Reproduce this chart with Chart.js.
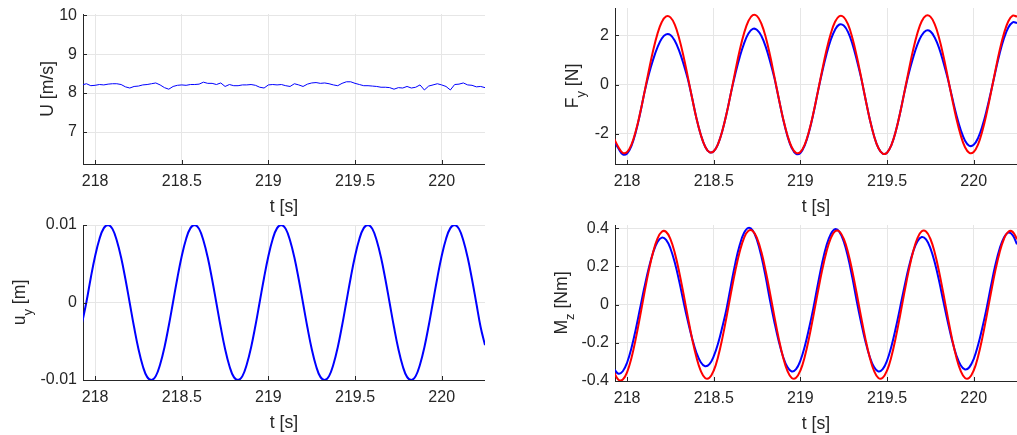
<!DOCTYPE html>
<html lang="en">
<head>
<meta charset="UTF-8">
<title>Cylinder response</title>
<script src="https://cdn.jsdelivr.net/npm/chart.js"></script>
<style>
  body { margin: 0; background: #fff; width: 1017px; height: 435px; overflow: hidden; position: relative; }
  .panel { position: absolute; }
</style>
</head>
<body>
<div class="panel" style="left:0;top:-6px;width:485px;height:226px"><canvas id="chartU"></canvas></div>
<div class="panel" style="left:500px;top:-12px;width:517px;height:232px"><canvas id="chartFy"></canvas></div>
<div class="panel" style="left:0;top:205px;width:485px;height:231px"><canvas id="chartUy"></canvas></div>
<div class="panel" style="left:500px;top:205px;width:517px;height:232px"><canvas id="chartMz"></canvas></div>
<script>
// time samples [s]
const t = [
  217.925, 217.95, 217.975,
  218, 218.025, 218.05, 218.075, 218.1, 218.125, 218.15, 218.175,
  218.2, 218.225, 218.25, 218.275, 218.3, 218.325, 218.35, 218.375,
  218.4, 218.425, 218.45, 218.475, 218.5, 218.525, 218.55, 218.575,
  218.6, 218.625, 218.65, 218.675, 218.7, 218.725, 218.75, 218.775,
  218.8, 218.825, 218.85, 218.875, 218.9, 218.925, 218.95, 218.975,
  219, 219.025, 219.05, 219.075, 219.1, 219.125, 219.15, 219.175,
  219.2, 219.225, 219.25, 219.275, 219.3, 219.325, 219.35, 219.375,
  219.4, 219.425, 219.45, 219.475, 219.5, 219.525, 219.55, 219.575,
  219.6, 219.625, 219.65, 219.675, 219.7, 219.725, 219.75, 219.775,
  219.8, 219.825, 219.85, 219.875, 219.9, 219.925, 219.95, 219.975,
  220, 220.025, 220.05, 220.075, 220.1, 220.125, 220.15, 220.175,
  220.2, 220.225, 220.25
];

// wind speed U [m/s]
const windU = [
  8.21, 8.24, 8.19,
  8.20, 8.22, 8.21, 8.23, 8.24, 8.24, 8.22, 8.16,
  8.13, 8.17, 8.18, 8.21, 8.22, 8.24, 8.26, 8.21,
  8.14, 8.10, 8.17, 8.20, 8.21, 8.20, 8.22, 8.22,
  8.23, 8.28, 8.25, 8.25, 8.22, 8.26, 8.17, 8.22,
  8.19, 8.19, 8.21, 8.21, 8.22, 8.20, 8.15, 8.13,
  8.21, 8.22, 8.21, 8.22, 8.19, 8.17, 8.24, 8.21,
  8.17, 8.23, 8.26, 8.27, 8.25, 8.26, 8.24, 8.21,
  8.19, 8.25, 8.29, 8.29, 8.25, 8.22, 8.19, 8.19,
  8.18, 8.17, 8.15, 8.15, 8.14, 8.10, 8.14, 8.13,
  8.17, 8.13, 8.15, 8.21, 8.08, 8.18, 8.21, 8.24,
  8.21, 8.17, 8.08, 8.22, 8.23, 8.26, 8.21, 8.20,
  8.16, 8.17, 8.14
];

// force F_y [N]
const fyRed = [
  -2.20, -2.55, -2.78,
  -2.74, -2.44, -1.89, -1.16, -0.32, 0.56, 1.38, 2.06,
  2.54, 2.77, 2.73, 2.43, 1.88, 1.16, 0.32, -0.55,
  -1.37, -2.04, -2.52, -2.75, -2.71, -2.41, -1.87, -1.15,
  -0.31, 0.57, 1.40, 2.09, 2.58, 2.82, 2.78, 2.47,
  1.92, 1.18, 0.32, -0.56, -1.38, -2.06, -2.55, -2.78,
  -2.74, -2.44, -1.89, -1.16, -0.32, 0.56, 1.38, 2.06,
  2.55, 2.78, 2.74, 2.44, 1.89, 1.16, 0.32, -0.57,
  -1.40, -2.09, -2.58, -2.81, -2.77, -2.46, -1.91, -1.17,
  -0.32, 0.56, 1.39, 2.08, 2.57, 2.80, 2.76, 2.45,
  1.90, 1.17, 0.32, -0.56, -1.38, -2.06, -2.55, -2.78,
  -2.74, -2.44, -1.89, -1.16, -0.32, 0.56, 1.39, 2.08,
  2.57, 2.80, 2.76
];
const fyBlue = [
  -2.28, -2.60, -2.84,
  -2.80, -2.49, -1.93, -1.18, -0.32, 0.41, 1.01, 1.51,
  1.87, 2.04, 2.01, 1.78, 1.38, 0.85, 0.23, -0.55,
  -1.37, -2.04, -2.52, -2.75, -2.71, -2.41, -1.87, -1.15,
  -0.31, 0.45, 1.12, 1.67, 2.07, 2.26, 2.22, 1.97,
  1.53, 0.94, 0.26, -0.57, -1.40, -2.09, -2.58, -2.82,
  -2.78, -2.47, -1.92, -1.18, -0.32, 0.49, 1.21, 1.81,
  2.23, 2.44, 2.40, 2.13, 1.65, 1.01, 0.28, -0.57,
  -1.40, -2.09, -2.58, -2.81, -2.77, -2.46, -1.91, -1.17,
  -0.32, 0.44, 1.08, 1.62, 2.00, 2.19, 2.16, 1.91,
  1.49, 0.91, 0.25, -0.50, -1.23, -1.84, -2.28, -2.49,
  -2.45, -2.18, -1.69, -1.04, -0.28, 0.51, 1.26, 1.88,
  2.32, 2.53, 2.50
];

// displacement u_y [m]
const uy = [
  -0.0026, 0.0001, 0.0032,
  0.0060, 0.0082, 0.0096, 0.0100, 0.0095, 0.0080, 0.0058, 0.0030,
  -0.0001, -0.0032, -0.0060, -0.0082, -0.0096, -0.0100, -0.0095, -0.0080,
  -0.0058, -0.0030, 0.0001, 0.0032, 0.0060, 0.0082, 0.0096, 0.0100,
  0.0095, 0.0080, 0.0058, 0.0030, -0.0001, -0.0032, -0.0060, -0.0082,
  -0.0096, -0.0100, -0.0095, -0.0080, -0.0058, -0.0030, 0.0001, 0.0032,
  0.0060, 0.0082, 0.0096, 0.0100, 0.0095, 0.0080, 0.0058, 0.0030,
  -0.0001, -0.0032, -0.0060, -0.0082, -0.0096, -0.0100, -0.0095, -0.0080,
  -0.0058, -0.0030, 0.0001, 0.0032, 0.0060, 0.0082, 0.0096, 0.0100,
  0.0095, 0.0080, 0.0058, 0.0030, -0.0001, -0.0032, -0.0060, -0.0082,
  -0.0096, -0.0100, -0.0095, -0.0080, -0.0058, -0.0030, 0.0001, 0.0032,
  0.0060, 0.0082, 0.0096, 0.0100, 0.0095, 0.0080, 0.0058, 0.0030,
  -0.0001, -0.0032, -0.0055
];

// moment M_z [Nm]
const mzRed = [
  -0.355, -0.393, -0.392,
  -0.353, -0.279, -0.178, -0.060, 0.063, 0.178, 0.275, 0.345,
  0.382, 0.381, 0.343, 0.271, 0.173, 0.058, -0.063, -0.178,
  -0.276, -0.347, -0.384, -0.383, -0.345, -0.273, -0.174, -0.058,
  0.064, 0.180, 0.278, 0.350, 0.387, 0.386, 0.347, 0.275,
  0.175, 0.059, -0.063, -0.178, -0.276, -0.347, -0.384, -0.383,
  -0.345, -0.273, -0.174, -0.058, 0.063, 0.178, 0.276, 0.347,
  0.384, 0.383, 0.345, 0.273, 0.174, 0.058, -0.063, -0.178,
  -0.276, -0.347, -0.384, -0.383, -0.345, -0.273, -0.174, -0.058,
  0.063, 0.178, 0.276, 0.347, 0.384, 0.383, 0.345, 0.273,
  0.174, 0.058, -0.063, -0.178, -0.276, -0.347, -0.384, -0.383,
  -0.345, -0.273, -0.174, -0.058, 0.063, 0.178, 0.275, 0.345,
  0.382, 0.381, 0.343
];
const mzBlue = [
  -0.338, -0.362, -0.349,
  -0.303, -0.227, -0.129, -0.018, 0.092, 0.192, 0.273, 0.328,
  0.351, 0.339, 0.294, 0.220, 0.125, 0.017, -0.085, -0.177,
  -0.252, -0.302, -0.323, -0.312, -0.270, -0.203, -0.115, -0.016,
  0.105, 0.220, 0.313, 0.376, 0.402, 0.388, 0.336, 0.252,
  0.143, 0.020, -0.092, -0.192, -0.273, -0.327, -0.350, -0.338,
  -0.293, -0.219, -0.124, -0.017, 0.103, 0.216, 0.308, 0.369,
  0.395, 0.381, 0.331, 0.248, 0.140, 0.019, -0.092, -0.192,
  -0.273, -0.327, -0.350, -0.338, -0.293, -0.219, -0.124, -0.017,
  0.093, 0.194, 0.276, 0.331, 0.354, 0.342, 0.296, 0.222,
  0.126, 0.017, -0.089, -0.186, -0.265, -0.318, -0.340, -0.328,
  -0.285, -0.213, -0.121, -0.017, 0.099, 0.207, 0.294, 0.352,
  0.377, 0.364, 0.316
];

// axis ticks
const xTicks = [218, 218.5, 219, 219.5, 220];
const xTickText = ['218', '218.5', '219', '219.5', '220'];
const uTicks = [7, 8, 9, 10];
const uTickText = ['7', '8', '9', '10'];
const fyTicks = [-2, 0, 2];
const fyTickText = ['-2', '0', '2'];
const uyTicks = [-0.01, 0, 0.01];
const uyTickText = ['-0.01', '0', '0.01'];
const mzTicks = [-0.4, -0.2, 0, 0.2, 0.4];
const mzTickText = ['-0.4', '-0.2', '0', '0.2', '0.4'];

const textColor = '#262626';
const gridColor = '#e6e6e6';
const fontFamily = '"Liberation Sans", Arial, Helvetica, sans-serif';

Chart.defaults.font.family = fontFamily;
Chart.defaults.color = textColor;

// y axis label with a subscript, drawn rotated like the matlab ylabel
const yLabelPlugin = {
  id: 'ylab',
  afterDraw(chart, args, o) {
    const {ctx, chartArea} = chart;
    const big = '17.6px ' + fontFamily;
    const small = '13px ' + fontFamily;
    ctx.save();
    ctx.fillStyle = textColor;
    ctx.textBaseline = 'alphabetic';
    ctx.textAlign = 'left';
    ctx.font = big;
    const w1 = ctx.measureText(o.main).width;
    const w3 = ctx.measureText(o.rest).width;
    ctx.font = small;
    const w2 = o.sub ? ctx.measureText(o.sub).width : 0;
    ctx.translate(o.x, (chartArea.top + chartArea.bottom) / 2);
    ctx.rotate(-Math.PI / 2);
    let x = -(w1 + w2 + w3) / 2;
    ctx.font = big;
    ctx.fillText(o.main, x, 0);
    x += w1;
    if (o.sub) {
      ctx.font = small;
      ctx.fillText(o.sub, x, 7);
      x += w2;
    }
    ctx.font = big;
    ctx.fillText(o.rest, x, 0);
    ctx.restore();
  }
};

// small inward tick marks
const innerTicks = {
  id: 'innerTicks',
  afterDraw(chart) {
    const {ctx, chartArea: a, scales: {x, y}} = chart;
    ctx.save();
    ctx.strokeStyle = textColor;
    ctx.lineWidth = 1;
    ctx.beginPath();
    x.ticks.forEach(tk => {
      const px = Math.round(x.getPixelForValue(tk.value)) + 0.5;
      ctx.moveTo(px, a.bottom);
      ctx.lineTo(px, a.bottom - 4);
    });
    y.ticks.forEach(tk => {
      const py = Math.round(y.getPixelForValue(tk.value)) + 0.5;
      ctx.moveTo(a.left, py);
      ctx.lineTo(a.left + 4, py);
    });
    ctx.stroke();
    ctx.restore();
  }
};

function makeChart(id, series, yMin, yMax, yTicks, yTickText, yWidth, label) {
  return new Chart(document.getElementById(id), {
    type: 'line',
    data: {
      datasets: series.map(s => ({
        data: t.map((x, i) => ({x: x, y: s.values[i]})),
        borderColor: s.color,
        borderWidth: s.width,
        tension: s.tension,
        pointRadius: 0,
        fill: false
      }))
    },
    options: {
      animation: false,
      responsive: true,
      maintainAspectRatio: false,
      layout: { padding: { top: 20, right: 0, left: 0, bottom: 0 } },
      plugins: { legend: { display: false }, tooltip: { enabled: false }, ylab: label },
      scales: {
        x: {
          type: 'linear',
          min: 217.93,
          max: 220.25,
          bounds: 'data',
          afterBuildTicks: s => { s.ticks = xTicks.map(v => ({value: v})); },
          afterFit: s => { s.height = 56; },
          ticks: { callback: (v, i) => xTickText[i], padding: 8, autoSkip: false, maxRotation: 0, color: textColor, font: { size: 16 } },
          grid: { color: gridColor, drawTicks: false },
          border: { color: textColor },
          title: { display: true, text: 't [s]', color: textColor, font: { size: 17.6 }, padding: { top: 0, bottom: 2 } }
        },
        y: {
          type: 'linear',
          min: yMin,
          max: yMax,
          bounds: 'data',
          afterBuildTicks: s => { s.ticks = yTicks.map(v => ({value: v})); },
          afterFit: s => { s.width = yWidth; },
          ticks: { callback: (v, i) => yTickText[i], padding: 6, autoSkip: false, color: textColor, font: { size: 16 } },
          grid: { color: gridColor, drawTicks: false },
          border: { color: textColor }
        }
      }
    },
    plugins: [yLabelPlugin, innerTicks]
  });
}

// red is listed first so it is painted on top of blue
makeChart('chartU', [{values: windU, color: '#0000ff', width: 1, tension: 0}],
  6.18, 10.03, uTicks, uTickText, 83, {main: 'U [m/s]', sub: '', rest: '', x: 53});
makeChart('chartFy', [
    {values: fyRed, color: '#ff0000', width: 2, tension: 0.4},
    {values: fyBlue, color: '#0000ff', width: 2, tension: 0.4}
  ], -3.23, 3.11, fyTicks, fyTickText, 115, {main: 'F', sub: 'y', rest: ' [N]', x: 78});
makeChart('chartUy', [{values: uy, color: '#0000ff', width: 2, tension: 0.4}],
  -0.01, 0.01, uyTicks, uyTickText, 83, {main: 'u', sub: 'y', rest: ' [m]', x: 25});
makeChart('chartMz', [
    {values: mzRed, color: '#ff0000', width: 2, tension: 0.4},
    {values: mzBlue, color: '#0000ff', width: 2, tension: 0.4}
  ], -0.4, 0.417, mzTicks, mzTickText, 115, {main: 'M', sub: 'z', rest: ' [Nm]', x: 67});
</script>
</body>
</html>
